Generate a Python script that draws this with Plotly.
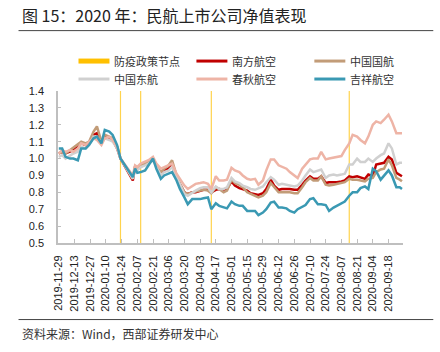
import plotly.graph_objects as go

dates = [
    "2019-11-29", "2019-12-02", "2019-12-05", "2019-12-09", "2019-12-12", "2019-12-16", "2019-12-19", "2019-12-23", "2019-12-26",
    "2019-12-30", "2020-01-02", "2020-01-06", "2020-01-09", "2020-01-13", "2020-01-16", "2020-01-20", "2020-01-23",
    "2020-02-03", "2020-02-05", "2020-02-07", "2020-02-10", "2020-02-14", "2020-02-17", "2020-02-21", "2020-02-24", "2020-02-28",
    "2020-03-02", "2020-03-06", "2020-03-09", "2020-03-13", "2020-03-16", "2020-03-20", "2020-03-23", "2020-03-27", "2020-03-30",
    "2020-04-03", "2020-04-06", "2020-04-10", "2020-04-13", "2020-04-17", "2020-04-20", "2020-04-24", "2020-04-27",
    "2020-05-01", "2020-05-04", "2020-05-08", "2020-05-11", "2020-05-15", "2020-05-18", "2020-05-22", "2020-05-25", "2020-05-29",
    "2020-06-01", "2020-06-05", "2020-06-08", "2020-06-12", "2020-06-15", "2020-06-19", "2020-06-22", "2020-06-26", "2020-06-29",
    "2020-07-03", "2020-07-06", "2020-07-10", "2020-07-13", "2020-07-17", "2020-07-20", "2020-07-24", "2020-07-27", "2020-07-31",
    "2020-08-03", "2020-08-07", "2020-08-10", "2020-08-14", "2020-08-17", "2020-08-21", "2020-08-24", "2020-08-28", "2020-08-31",
    "2020-09-04", "2020-09-07", "2020-09-11", "2020-09-14", "2020-09-18", "2020-09-21", "2020-09-25", "2020-09-28", "2020-09-30",
]

csa = [  # 南方航空
    1.03, 1.04, 1.03, 1.04, 1.05, 1.07, 1.09, 1.08, 1.09,
    1.14, 1.15, 1.09, 1.13, 1.12, 1.11, 1.06, 1.00,
    0.87, 0.95, 0.94, 0.95, 0.97, 0.98, 1.00, 0.96, 0.91,
    0.93, 0.94, 0.96, 0.89, 0.85, 0.80, 0.79, 0.80, 0.80,
    0.81, 0.815, 0.815, 0.80, 0.815, 0.82, 0.815, 0.82,
    0.865, 0.84, 0.825, 0.82, 0.81, 0.795, 0.79, 0.785, 0.795,
    0.82, 0.875, 0.84, 0.815, 0.82, 0.82, 0.82, 0.815, 0.815,
    0.845, 0.87, 0.895, 0.88, 0.88, 0.895, 0.855, 0.86, 0.86,
    0.86, 0.865, 0.87, 0.895, 0.89, 0.895, 0.89, 0.88, 0.905,
    0.895, 0.965, 0.97, 0.975, 1.01, 0.995, 0.915, 0.905, 0.895,
]

airchina = [  # 中国国航
    1.03, 1.04, 1.03, 1.05, 1.06, 1.08, 1.10, 1.09, 1.10,
    1.16, 1.19, 1.10, 1.14, 1.13, 1.12, 1.07, 1.00,
    0.88, 0.95, 0.94, 0.96, 0.97, 0.98, 1.00, 0.96, 0.92,
    0.94, 0.96, 0.99, 0.90, 0.85, 0.80, 0.79, 0.80, 0.805,
    0.81, 0.815, 0.81, 0.795, 0.83, 0.82, 0.80, 0.81,
    0.875, 0.855, 0.845, 0.83, 0.80, 0.79, 0.78, 0.77, 0.78,
    0.80, 0.855, 0.83, 0.80, 0.80, 0.80, 0.80, 0.795, 0.795,
    0.83, 0.86, 0.885, 0.87, 0.87, 0.895, 0.845, 0.84, 0.845,
    0.85, 0.855, 0.86, 0.88, 0.875, 0.875, 0.87, 0.865, 0.88,
    0.885, 0.92, 0.935, 0.94, 0.995, 0.96, 0.885, 0.875, 0.865,
]

cea = [  # 中国东航
    1.01, 1.02, 1.00, 1.02, 1.03, 1.04, 1.07, 1.06, 1.08,
    1.13, 1.13, 1.09, 1.12, 1.11, 1.10, 1.06, 1.00,
    0.88, 0.94, 0.93, 0.95, 0.96, 0.97, 0.99, 0.95, 0.90,
    0.92, 0.93, 0.95, 0.89, 0.84, 0.79, 0.78, 0.80, 0.81,
    0.825, 0.83, 0.83, 0.80, 0.835, 0.82, 0.82, 0.83,
    0.885, 0.865, 0.855, 0.84, 0.83, 0.82, 0.815, 0.825, 0.835,
    0.86, 0.89, 0.875, 0.845, 0.85, 0.845, 0.84, 0.835, 0.84,
    0.87, 0.90, 0.935, 0.92, 0.93, 0.935, 0.885, 0.90, 0.905,
    0.90, 0.905, 0.91, 0.965, 0.965, 1.00, 0.98, 0.98, 1.00,
    0.98, 1.00, 1.02, 1.03, 1.09, 1.06, 0.965, 0.975, 0.975,
]

spring = [  # 春秋航空
    1.03, 1.05, 1.04, 1.05, 1.04, 1.06, 1.09, 1.08, 1.10,
    1.12, 1.11, 1.08, 1.12, 1.13, 1.11, 1.07, 1.00,
    0.90, 0.96, 0.95, 0.97, 0.98, 0.99, 1.01, 0.97, 0.94,
    0.95, 0.96, 0.97, 0.91, 0.88, 0.84, 0.82, 0.84, 0.85,
    0.855, 0.86, 0.85, 0.82, 0.895, 0.87, 0.87, 0.875,
    0.945, 0.93, 0.92, 0.90, 0.88, 0.875, 0.88, 0.845, 0.87,
    0.93, 0.995, 0.995, 0.96, 0.95, 0.94, 0.92, 0.90, 0.885,
    0.94, 0.965, 0.995, 1.00, 1.00, 1.04, 0.995, 1.00, 1.005,
    1.01, 1.015, 1.05, 1.09, 1.14, 1.13, 1.11, 1.09, 1.13,
    1.20, 1.22, 1.21, 1.23, 1.26, 1.22, 1.15, 1.15, 1.15,
]

juneyao = [  # 吉祥航空
    1.06, 1.06, 1.01, 1.00, 1.00, 0.99, 1.06, 1.06, 1.08,
    1.12, 1.13, 1.09, 1.17, 1.16, 1.14, 1.08, 1.00,
    0.89, 0.94, 0.915, 0.92, 0.93, 0.96, 1.00, 0.94, 0.88,
    0.90, 0.91, 0.92, 0.87, 0.82, 0.77, 0.73, 0.76, 0.76,
    0.76, 0.765, 0.77, 0.70, 0.735, 0.72, 0.71, 0.705,
    0.745, 0.73, 0.72, 0.72, 0.69, 0.69, 0.69, 0.665, 0.68,
    0.70, 0.74, 0.745, 0.71, 0.71, 0.705, 0.69, 0.68, 0.70,
    0.715, 0.725, 0.76, 0.765, 0.73, 0.73, 0.725, 0.69, 0.71,
    0.72, 0.735, 0.745, 0.78, 0.80, 0.80, 0.825, 0.835, 0.82,
    0.94, 0.925, 0.875, 0.90, 0.93, 0.90, 0.83, 0.83, 0.82,
]

policy_name = "防疫政策节点"
policy_dates = ["2020-01-23", "2020-02-10", "2020-04-13", "2020-08-14"]

y_ticks = [0.5, 0.6, 0.7, 0.8, 0.9, 1.0, 1.1, 1.2, 1.3, 1.4]

series = [
    ("南方航空", csa, "#C00000"),
    ("中国国航", airchina, "#C29C78"),
    ("中国东航", cea, "#D0D0D0"),
    ("春秋航空", spring, "#EEB4A6"),
    ("吉祥航空", juneyao, "#3A99B3"),
]
policy_color = "#FFC000"

W, H = 440, 352
L, R, T, B = 57.5, 402.7, 91.0, 243.3
YMIN, YMAX = y_ticks[0], y_ticks[-1]


def px(xp):
    return (xp - L) / (R - L)


def py(yp):
    return (B - yp) / (B - T)


fig = go.Figure()

# policy vertical lines
vx, vy = [], []
for d in policy_dates:
    vx += [d, d, None]
    vy += [YMIN, YMAX, None]
fig.add_trace(go.Scatter(x=vx, y=vy, mode="lines", line=dict(color="#FFD34D", width=1.2),
                         showlegend=False, hoverinfo="skip", name=policy_name))

for name, vals, col in series:
    fig.add_trace(go.Scatter(x=dates, y=vals, mode="lines", name=name, showlegend=False,
                             line=dict(color=col, width=2.5)))

font_cjk = "Noto Sans CJK SC"
font_num = "Liberation Sans"

# manual legend: 3 columns x 2 rows
legend_items = [(policy_name, policy_color, 5)] + [(n, c, 3) for n, _, c in series]
col_x = [78, 196, 314]
row_y = [61, 79]
for i, (name, col, lw) in enumerate(legend_items):
    cx = col_x[i % 3]
    ry = row_y[i // 3]
    fig.add_shape(type="line", xref="paper", yref="paper", x0=px(cx), x1=px(cx + 31),
                  y0=py(ry), y1=py(ry), line=dict(color=col, width=lw))
    fig.add_annotation(text=name, xref="paper", yref="paper", x=px(cx + 34), y=py(ry),
                       xanchor="left", yanchor="middle", showarrow=False,
                       font=dict(family=font_cjk, size=11, color="#333333"))

fig.update_layout(
    width=W, height=H,
    margin=dict(l=L, r=W - R, t=T, b=H - B, pad=0),
    paper_bgcolor="white", plot_bgcolor="white",
    showlegend=False,
    xaxis=dict(type="date", range=["2019-11-28 07:00", "2020-09-30 22:00"],
               tick0="2019-11-29", dtick=14 * 86400000, tickformat="%Y-%m-%d",
               tickangle=-90, showline=True, linecolor="#BFBFBF", linewidth=2,
               ticks="inside", ticklen=4, tickcolor="#BFBFBF", showgrid=False, zeroline=False,
               tickfont=dict(family=font_num, size=11, color="#222222"), ticklabelstandoff=6),
    yaxis=dict(range=[YMIN, YMAX], tickvals=y_ticks, tickformat=".1f",
               showline=True, linecolor="#BFBFBF", linewidth=1.5,
               ticks="inside", ticklen=3, tickcolor="#BFBFBF", showgrid=False, zeroline=False,
               tickfont=dict(family=font_num, size=11, color="#222222"), ticklabelstandoff=10),
)

fig.add_annotation(text="图 15：2020 年：民航上市公司净值表现", xref="paper", yref="paper",
                   x=px(19), y=py(15), xanchor="left", yanchor="middle", showarrow=False,
                   font=dict(family=font_cjk, size=16, color="#222222"))
fig.add_annotation(text="资料来源：Wind，西部证券研发中心", xref="paper", yref="paper",
                   x=px(19), y=py(334), xanchor="left", yanchor="middle", showarrow=False,
                   font=dict(family=font_cjk, size=12, color="#333333"))

for yl in (30.5, 320):
    fig.add_shape(type="line", xref="paper", yref="paper", x0=px(18), x1=px(433),
                  y0=py(yl), y1=py(yl), line=dict(color="#444444", width=1))

fig.write_html("out.html")
